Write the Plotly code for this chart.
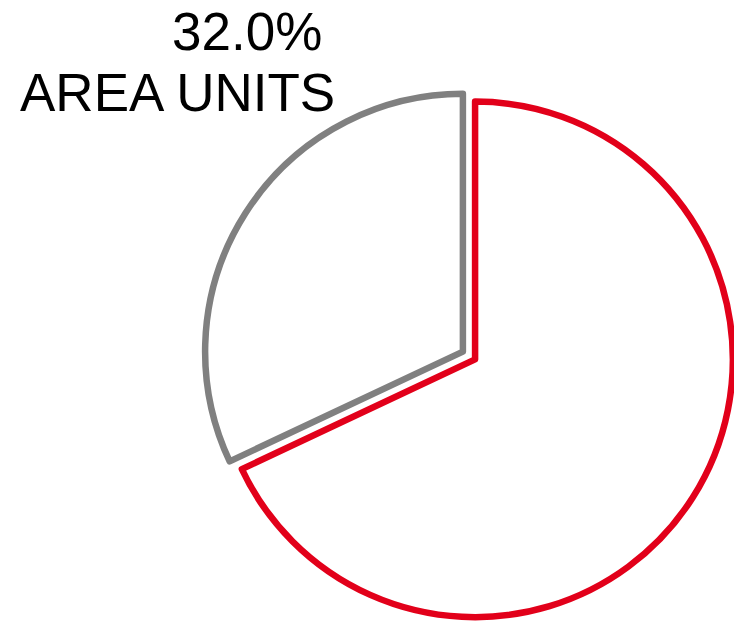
import plotly.graph_objects as go

# Data
categories = ["OTHER", "AREA UNITS"]
values = [68.0, 32.0]
slice_colors = ["#E2001A", "#808080"]

W, H = 734, 626

total = sum(values)
pct_text = f"{values[1] / total * 100:.1f}%"
label_text = categories[1]

fig = go.Figure(
    go.Pie(
        labels=categories,
        values=values,
        sort=False,
        direction="clockwise",
        rotation=0,
        pull=[0.028, 0.028],
        textinfo="none",
        hoverinfo="none",
        marker=dict(colors=["white", "white"],
                    line=dict(color=slice_colors, width=6.5)),
        domain=dict(x=[0.2779, 1.0], y=[0.00878, 0.8554]),
        showlegend=False,
    )
)

font = dict(family="Liberation Sans, Arial, sans-serif", size=53, color="black")
fig.add_annotation(text=pct_text, x=324 / W, y=1 - 31 / H,
                   xref="paper", yref="paper",
                   xanchor="right", yanchor="middle", showarrow=False, font=font)
fig.add_annotation(text=label_text, x=337 / W, y=1 - 92.5 / H,
                   xref="paper", yref="paper",
                   xanchor="right", yanchor="middle", showarrow=False, font=font)

fig.update_layout(
    width=W, height=H,
    margin=dict(l=0, r=0, t=0, b=0),
    paper_bgcolor="white",
    plot_bgcolor="white",
)

fig.write_html("out.html", config={"displayModeBar": False},
               post_script="document.body.style.margin='0';")
